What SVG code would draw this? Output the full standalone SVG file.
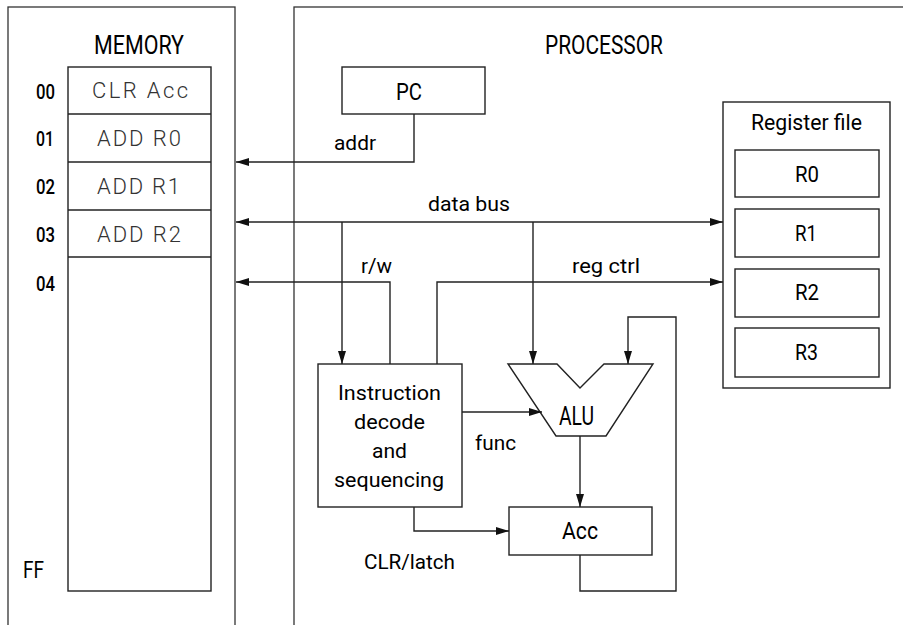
<svg xmlns="http://www.w3.org/2000/svg" width="903" height="625" viewBox="0 0 903 625">
  <style>
    .box { fill: #fff; stroke: #222; stroke-width: 1.4; }
    .frame { fill: none; stroke: #333; stroke-width: 1.3; }
    .wire { fill: none; stroke: #222; stroke-width: 1.4; }
    .lbl { font-family: Roboto, "Liberation Sans", sans-serif; fill: #000; }
    .cell { font-family: Roboto, "Liberation Sans", sans-serif; font-weight: 300; fill: #333; font-size: 22px; }
    .addr { font-family: Roboto, "Liberation Sans", sans-serif; font-weight: 500; fill: #000; font-size: 20px; }
  </style>
  <defs>
    <marker id="arrow" markerUnits="userSpaceOnUse" markerWidth="13" markerHeight="8" refX="13" refY="4" orient="auto-start-reverse">
      <path d="M0,0 L13,4 L0,8 z" fill="#111"/>
    </marker>
  </defs>

  <rect fill="#fff" x="0" y="0" width="903" height="625"/>

  <!-- memory side -->
  <g id="memory">
    <rect class="frame" x="8" y="7" width="227" height="650"/>
    <text class="lbl" x="94" y="54" font-size="25" textLength="90" lengthAdjust="spacingAndGlyphs">MEMORY</text>
    <rect class="box" x="68" y="67" width="143" height="524"/>
    <line class="wire" x1="68" y1="114" x2="211" y2="114"/>
    <line class="wire" x1="68" y1="162" x2="211" y2="162"/>
    <line class="wire" x1="68" y1="210" x2="211" y2="210"/>
    <line class="wire" x1="68" y1="257" x2="211" y2="257"/>
    <text class="cell" x="92" y="98" textLength="96" lengthAdjust="spacing">CLR Acc</text>
    <text class="cell" x="97" y="146" textLength="84" lengthAdjust="spacing">ADD R0</text>
    <text class="cell" x="97" y="194" textLength="83" lengthAdjust="spacing">ADD R1</text>
    <text class="cell" x="97" y="242" textLength="84" lengthAdjust="spacing">ADD R2</text>
    <g class="addr">
      <text x="36" y="99" textLength="19" lengthAdjust="spacingAndGlyphs">00</text>
      <text x="36" y="146" textLength="18" lengthAdjust="spacingAndGlyphs">01</text>
      <text x="36" y="194" textLength="19" lengthAdjust="spacingAndGlyphs">02</text>
      <text x="36" y="242" textLength="19" lengthAdjust="spacingAndGlyphs">03</text>
      <text x="36" y="291" textLength="19" lengthAdjust="spacingAndGlyphs">04</text>
      <text x="23" y="578" font-size="23" font-weight="400" textLength="21" lengthAdjust="spacingAndGlyphs">FF</text>
    </g>
  </g>

  <!-- processor frame -->
  <g id="processor">
    <rect class="frame" x="294" y="7" width="700" height="700"/>
    <text class="lbl" x="545" y="54" font-size="25" textLength="118" lengthAdjust="spacingAndGlyphs">PROCESSOR</text>
  </g>

  <g id="pc">
    <rect class="box" x="342" y="67" width="143" height="47"/>
    <text class="lbl" x="396" y="100" font-size="24" textLength="26" lengthAdjust="spacingAndGlyphs">PC</text>
  </g>

  <g id="register-file">
    <rect class="box" x="723" y="102" width="167" height="286"/>
    <text class="lbl" x="751" y="130" font-size="22" textLength="111" lengthAdjust="spacingAndGlyphs">Register file</text>
    <rect class="box" x="735" y="150" width="144" height="47"/>
    <rect class="box" x="735" y="209" width="144" height="48"/>
    <rect class="box" x="735" y="269" width="144" height="48"/>
    <rect class="box" x="735" y="328" width="144" height="49"/>
    <text class="lbl" x="795" y="182" font-size="22" textLength="24" lengthAdjust="spacingAndGlyphs">R0</text>
    <text class="lbl" x="795" y="241" font-size="22" textLength="22" lengthAdjust="spacingAndGlyphs">R1</text>
    <text class="lbl" x="795" y="300" font-size="22" textLength="24" lengthAdjust="spacingAndGlyphs">R2</text>
    <text class="lbl" x="795" y="360" font-size="22" textLength="23" lengthAdjust="spacingAndGlyphs">R3</text>
  </g>

  <g id="decoder">
    <rect class="box" x="318" y="364" width="144" height="143"/>
    <g class="lbl" font-size="21">
      <text x="338" y="400" textLength="103" lengthAdjust="spacingAndGlyphs">Instruction</text>
      <text x="354" y="429" textLength="71" lengthAdjust="spacingAndGlyphs">decode</text>
      <text x="372" y="458" textLength="35" lengthAdjust="spacingAndGlyphs">and</text>
      <text x="334" y="487" textLength="110" lengthAdjust="spacingAndGlyphs">sequencing</text>
    </g>
  </g>

  <g id="alu">
    <polygon class="box" points="508,364 557,364 580,388 604,364 653,364 606,436 556,436"/>
    <text class="lbl" x="559" y="425" font-size="25" textLength="35" lengthAdjust="spacingAndGlyphs">ALU</text>
  </g>

  <g id="acc">
    <rect class="box" x="509" y="507" width="143" height="48"/>
    <text class="lbl" x="562" y="539" font-size="24" textLength="36" lengthAdjust="spacingAndGlyphs">Acc</text>
  </g>

  <!-- connectors -->
  <g id="connectors">
    <path class="wire" d="M414,114 V162 H236" marker-end="url(#arrow)"/>
    <path class="wire" d="M236,222 H723" marker-start="url(#arrow)" marker-end="url(#arrow)"/>
    <path class="wire" d="M390,364 V282 H236" marker-end="url(#arrow)"/>
    <path class="wire" d="M437,364 V282 H723" marker-end="url(#arrow)"/>
    <path class="wire" d="M342,222 V364" marker-end="url(#arrow)"/>
    <path class="wire" d="M533,222 V364" marker-end="url(#arrow)"/>
    <path class="wire" d="M462,412 H542" marker-end="url(#arrow)"/>
    <path class="wire" d="M580,436 V507" marker-end="url(#arrow)"/>
    <path class="wire" d="M580,555 V591 H676 V317 H628 V364" marker-end="url(#arrow)"/>
    <path class="wire" d="M414,507 V531 H509" marker-end="url(#arrow)"/>
    <g class="lbl" font-size="21">
      <text x="334" y="150" textLength="42" lengthAdjust="spacingAndGlyphs">addr</text>
      <text x="428" y="211" textLength="82" lengthAdjust="spacingAndGlyphs">data bus</text>
      <text x="361" y="273" textLength="31" lengthAdjust="spacingAndGlyphs">r/w</text>
      <text x="572" y="273" textLength="68" lengthAdjust="spacingAndGlyphs">reg ctrl</text>
      <text x="475" y="450" textLength="41" lengthAdjust="spacingAndGlyphs">func</text>
      <text x="364" y="569" textLength="91" lengthAdjust="spacingAndGlyphs">CLR/latch</text>
    </g>
  </g>
</svg>
